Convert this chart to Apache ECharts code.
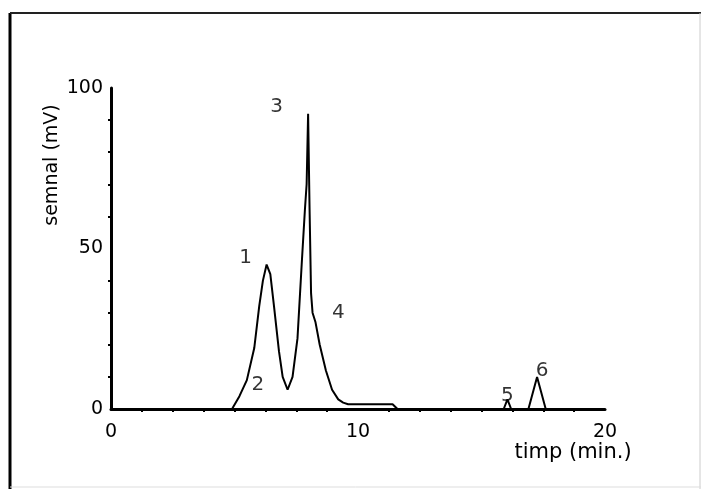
<!DOCTYPE html>
<html>
<head>
<meta charset="utf-8">
<script src="https://cdn.jsdelivr.net/npm/echarts@6/dist/echarts.min.js"></script>
<style>
  html, body { margin: 0; padding: 0; background: #fff; }
  #chart { width: 701px; height: 489px; }
</style>
</head>
<body>
<div id="chart"></div>
<script>
// chromatogram trace
const timeMin = [0, 4.9, 5.2, 5.5, 5.8, 6.0, 6.15, 6.3, 6.45, 6.6, 6.8, 6.95, 7.15, 7.35, 7.55, 7.72, 7.85, 7.92, 7.98, 8.04, 8.1, 8.16, 8.28, 8.45, 8.7, 8.95, 9.2, 9.4, 9.6, 11.4, 11.6, 15.9, 16.05, 16.2, 16.9, 17.25, 17.6, 20];
const signal  = [0, 0, 4, 9, 19, 32, 40, 45, 42, 32, 18, 10, 6, 10, 22, 45, 62, 70, 92, 62, 36, 30, 27, 20, 12, 6, 3, 2, 1.5, 1.5, 0, 0, 3, 0, 0, 10, 0, 0];
const peakNames = ['1', '2', '3', '4', '5', '6'];
const peakX = [5.45, 5.95, 6.7, 9.2, 16.05, 17.45];
const peakY = [47, 7.5, 94, 30, 4, 12];
const xTicks = [0, 10, 20];
const yTicks = [0, 50, 100];

const chart = echarts.init(document.getElementById('chart'));
const font = 'DejaVu Sans';
chart.setOption({
  animation: false,
  backgroundColor: '#fff',
  grid: { left: 111, top: 88, right: 96, bottom: 80 },
  xAxis: {
    type: 'value',
    min: xTicks[0],
    max: xTicks[xTicks.length - 1],
    interval: 10,
    axisLine: { lineStyle: { color: '#000', width: 3 } },
    axisTick: { show: false },
    minorTick: { show: true, splitNumber: 8, length: 3, lineStyle: { color: '#000', width: 2 } },
    splitLine: { show: false },
    axisLabel: { color: '#000', fontSize: 19, fontFamily: font, margin: 14 }
  },
  yAxis: {
    type: 'value',
    min: yTicks[0],
    max: yTicks[yTicks.length - 1],
    interval: 50,
    axisLine: { show: true, lineStyle: { color: '#000', width: 3 } },
    axisTick: { show: false },
    minorTick: { show: true, splitNumber: 5, length: 3, lineStyle: { color: '#000', width: 2 } },
    splitLine: { show: false },
    axisLabel: { color: '#000', fontSize: 19, fontFamily: font, margin: 8 }
  },
  series: [
    {
      type: 'line',
      data: timeMin.map((t, i) => [t, signal[i]]),
      symbol: 'none',
      lineStyle: { color: '#000', width: 2 }
    },
    {
      type: 'scatter',
      data: peakNames.map((n, i) => ({ name: n, value: [peakX[i], peakY[i]] })),
      symbolSize: 0,
      label: {
        show: true,
        position: 'inside',
        formatter: '{b}',
        color: '#000',
        textBorderWidth: 0,
        fontSize: 20,
        fontFamily: font
      }
    }
  ],
  graphic: [
    { type: 'line', shape: { x1: 10, y1: 13, x2: 10, y2: 489 }, style: { stroke: '#000', lineWidth: 3 } },
    { type: 'line', shape: { x1: 10, y1: 13, x2: 701, y2: 13 }, style: { stroke: '#222', lineWidth: 2 } },
    { type: 'line', shape: { x1: 700, y1: 13, x2: 700, y2: 489 }, style: { stroke: '#ccc', lineWidth: 1 } },
    { type: 'line', shape: { x1: 10, y1: 487, x2: 701, y2: 487 }, style: { stroke: '#ddd', lineWidth: 1 } },
    {
      type: 'text',
      x: 52, y: 165, rotation: Math.PI / 2,
      style: { text: 'semnal (mV)', fill: '#000', fontSize: 19, fontFamily: font, align: 'center', verticalAlign: 'middle' }
    },
    {
      type: 'text',
      x: 573, y: 453,
      style: { text: 'timp (min.)', fill: '#000', fontSize: 21, fontFamily: font, align: 'center', verticalAlign: 'middle' }
    }
  ]
});
</script>
</body>
</html>
